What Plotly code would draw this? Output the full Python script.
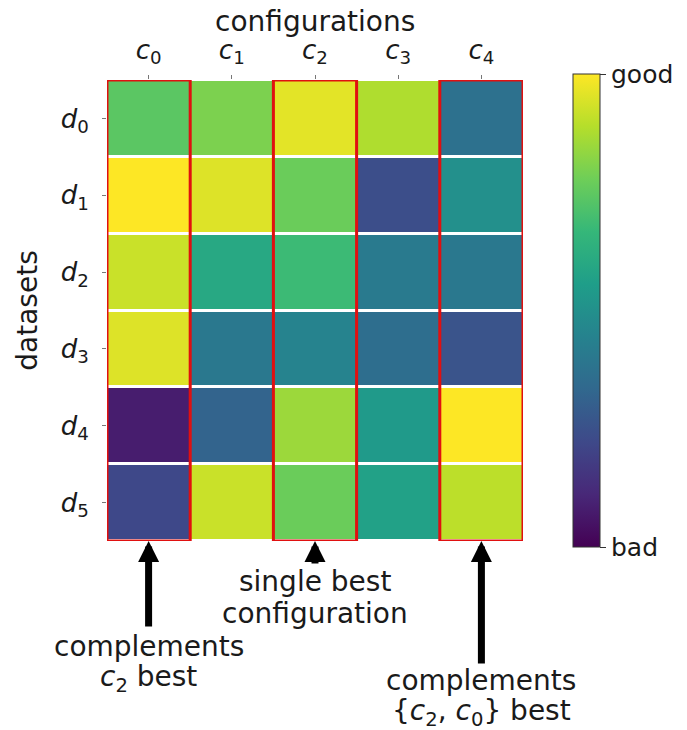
import plotly.graph_objects as go

configs = ["c0", "c1", "c2", "c3", "c4"]
datasets = ["d0", "d1", "d2", "d3", "d4", "d5"]
config_labels = ["<i>c</i><sub>%d</sub>" % i for i in range(5)]
dataset_labels = ["<i>d</i><sub>%d</sub>" % i for i in range(6)]

# scores per dataset (rows) and configuration (columns), 0 = bad, 1 = good
scores = [
    [0.74, 0.80, 0.96, 0.88, 0.37],
    [1.00, 0.95, 0.77, 0.24, 0.50],
    [0.92, 0.60, 0.68, 0.41, 0.40],
    [0.95, 0.40, 0.45, 0.36, 0.26],
    [0.08, 0.32, 0.85, 0.54, 1.00],
    [0.22, 0.92, 0.77, 0.57, 0.90],
]

highlighted = ["c0", "c2", "c4"]
# (column, text lines, arrow length in px, offset of first line below the heatmap in px)
notes = [
    ("c0", ["complements", "<i>c</i><sub>2</sub> best"], 87, 105),
    ("c2", ["single best", "configuration"], 24, 40),
    ("c4", ["complements", "{<i>c</i><sub>2</sub>, <i>c</i><sub>0</sub>} best"], 124, 139),
]
line_step = 32

font = dict(family="DejaVu Sans", size=28, color="#1a1a1a")
tick_font = dict(family="DejaVu Sans", size=26, color="#1a1a1a")
cbar_font = dict(family="DejaVu Sans", size=25, color="#1a1a1a")

fig = go.Figure(go.Heatmap(
    z=scores, x=configs, y=datasets,
    colorscale="Viridis", zmin=0, zmax=1, ygap=3,
    colorbar=dict(
        tickvals=[0, 1], ticktext=["bad", "good"],
        ticks="outside", ticklen=6, tickcolor="#333",
        thickness=27, len=1.026, x=1.12, xanchor="left", xpad=0,
        y=0.5, yanchor="middle", ypad=0,
        outlinewidth=1, outlinecolor="#333",
        tickfont=cbar_font,
    ),
))

for c in highlighted:
    i = configs.index(c)
    fig.add_shape(type="rect", xref="x", yref="y",
                  x0=i - 0.5, x1=i + 0.5, y0=-0.5, y1=len(datasets) - 0.5,
                  line=dict(color="#e01010", width=3))

bottom = len(datasets) - 0.5
for c, lines, arrow_len, first in notes:
    fig.add_annotation(x=c, y=bottom, xref="x", yref="y", text="",
                       showarrow=True, ax=0, ay=arrow_len, standoff=0,
                       arrowhead=2, arrowsize=0.6, arrowwidth=7,
                       arrowcolor="black")
    for k, line in enumerate(lines):
        fig.add_annotation(x=c, y=bottom, xref="x", yref="y", text=line,
                           showarrow=False, yanchor="middle",
                           yshift=-(first + k * line_step), font=font)

fig.add_annotation(x=0.5, y=1, xref="paper", yref="paper", text="configurations",
                   showarrow=False, yanchor="middle", yshift=59, font=font)

fig.update_xaxes(side="top", tickvals=configs, ticktext=config_labels,
                 range=[-0.5, len(configs) - 0.5],
                 ticks="outside", ticklen=4, tickcolor="#777",
                 ticklabelstandoff=6,
                 tickfont=tick_font, automargin=False,
                 showgrid=False, zeroline=False)
fig.update_yaxes(tickvals=datasets, ticktext=dataset_labels,
                 range=[len(datasets) - 0.5, -0.5],
                 ticks="outside", ticklen=4, tickcolor="#777",
                 ticklabelstandoff=8,
                 title=dict(text="datasets", font=font, standoff=14),
                 tickfont=tick_font, automargin=False,
                 showgrid=False, zeroline=False)

fig.update_layout(
    width=687, height=730,
    margin=dict(l=99, r=172, t=72, b=197, autoexpand=False),
    paper_bgcolor="white", plot_bgcolor="white",
    font=font,
)

fig.write_html("out.html")
